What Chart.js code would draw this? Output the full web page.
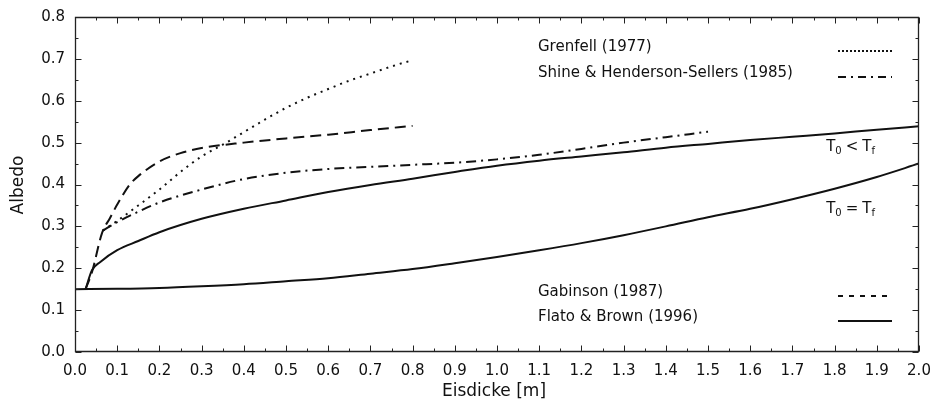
<!DOCTYPE html>
<html>
<head>
<meta charset="utf-8">
<script src="https://cdn.jsdelivr.net/npm/chart.js@4/dist/chart.umd.min.js"></script>
<style>
  body { margin: 0; background: #fff; }
  #wrap { width: 931px; height: 402px; }
</style>
</head>
<body>
<div id="wrap"><canvas id="albedoChart" width="931" height="402"></canvas></div>
<script>
// Flato & Brown (1996), T0 < Tf
const flatoUpperX = [0.025, 0.04, 0.06, 0.1, 0.15, 0.2, 0.3, 0.4, 0.5, 0.6, 0.7, 0.8, 0.9, 1.0, 1.1, 1.2, 1.3, 1.4, 1.5, 1.6, 1.7, 1.8, 1.9, 2.0];
const flatoUpperY = [0.15, 0.195, 0.215, 0.243, 0.265, 0.286, 0.318, 0.342, 0.362, 0.382, 0.399, 0.414, 0.43, 0.445, 0.457, 0.467, 0.477, 0.488, 0.497, 0.506, 0.514, 0.522, 0.531, 0.539];
// Flato & Brown (1996), T0 = Tf
const flatoLowerX = [0, 0.1, 0.2, 0.3, 0.4, 0.5, 0.6, 0.7, 0.8, 0.9, 1.0, 1.1, 1.2, 1.3, 1.4, 1.5, 1.6, 1.7, 1.8, 1.9, 2.0];
const flatoLowerY = [0.15, 0.151, 0.153, 0.157, 0.162, 0.169, 0.176, 0.187, 0.198, 0.212, 0.227, 0.243, 0.26, 0.279, 0.3, 0.322, 0.342, 0.365, 0.39, 0.418, 0.45];
// Gabinson (1987)
const gabinsonX = [0.025, 0.04, 0.064, 0.083, 0.1, 0.13, 0.15, 0.2, 0.25, 0.3, 0.4, 0.5, 0.6, 0.7, 0.8];
const gabinsonY = [0.15, 0.19, 0.284, 0.32, 0.352, 0.4, 0.42, 0.455, 0.475, 0.487, 0.5, 0.51, 0.519, 0.53, 0.54];
// Grenfell (1977)
const grenfellX = [0.066, 0.1, 0.15, 0.2, 0.25, 0.3, 0.35, 0.4, 0.45, 0.5, 0.55, 0.6, 0.65, 0.7, 0.75, 0.8];
const grenfellY = [0.29, 0.313, 0.35, 0.388, 0.43, 0.467, 0.495, 0.525, 0.555, 0.583, 0.607, 0.628, 0.648, 0.665, 0.682, 0.697];
// Shine & Henderson-Sellers (1985)
const shineX = [0.066, 0.1, 0.15, 0.2, 0.3, 0.4, 0.5, 0.6, 0.7, 0.8, 0.9, 1.0, 1.1, 1.2, 1.3, 1.4, 1.5];
const shineY = [0.29, 0.31, 0.335, 0.357, 0.388, 0.413, 0.428, 0.437, 0.442, 0.447, 0.452, 0.46, 0.471, 0.485, 0.5, 0.513, 0.526];

const legendLabels = ['Grenfell (1977)', 'Shine & Henderson-Sellers (1985)', 'Gabinson (1987)', 'Flato & Brown (1996)'];
const xTitle = 'Eisdicke [m]';
const yTitle = 'Albedo';

const ink = '#111';
const font = '"DejaVu Sans", sans-serif';

const toPoints = (xs, ys) => xs.map((x, i) => ({ x: x, y: ys[i] }));

const line = (xs, ys, dash) => ({
    data: toPoints(xs, ys),
    borderColor: ink,
    borderWidth: 2,
    borderDash: dash,
    pointRadius: 0,
    fill: false,
    cubicInterpolationMode: 'monotone'
});

// frame, inward ticks, legend, annotations and axis titles
const decorations = {
    id: 'decorations',
    afterDraw(chart) {
        const ctx = chart.ctx;
        const a = chart.chartArea;
        const xs = chart.scales.x;
        const ys = chart.scales.y;
        const L = Math.round(a.left) + 0.5, R = Math.round(a.right) - 0.5;
        const T = Math.round(a.top) + 0.5, B = Math.round(a.bottom) - 0.5;
        ctx.save();
        ctx.setLineDash([]);
        ctx.strokeStyle = '#222';
        ctx.lineWidth = 1.3;
        ctx.beginPath();
        ctx.moveTo(L, T); ctx.lineTo(R, T); ctx.lineTo(R, B); ctx.lineTo(L, B); ctx.closePath();
        ctx.stroke();
        ctx.lineWidth = 1;
        ctx.beginPath();
        for (let i = 0; i <= 40; i++) {
            const v = i * 0.05;
            const len = i % 2 === 0 ? 6 : 3;
            const px = Math.round(xs.getPixelForValue(v)) + 0.5;
            ctx.moveTo(px, B); ctx.lineTo(px, B - len);
            ctx.moveTo(px, T); ctx.lineTo(px, T + len);
        }
        for (let i = 0; i <= 16; i++) {
            const v = i * 0.05;
            const len = i % 2 === 0 ? 6 : 3;
            const py = Math.round(ys.getPixelForValue(v)) + 0.5;
            ctx.moveTo(L, py); ctx.lineTo(L + len, py);
            ctx.moveTo(R, py); ctx.lineTo(R - len, py);
        }
        ctx.stroke();

        // legend
        const rows = [
            { y: 47, dash: [2, 2] },
            { y: 73, dash: [8, 5, 2, 5] },
            { y: 292, dash: [5, 6] },
            { y: 317, dash: [] }
        ];
        ctx.fillStyle = ink;
        ctx.font = '15px ' + font;
        ctx.textBaseline = 'middle';
        ctx.textAlign = 'left';
        rows.forEach((r, i) => {
            ctx.fillText(legendLabels[i], 538, r.y);
            ctx.beginPath();
            ctx.setLineDash(r.dash);
            ctx.lineWidth = 2;
            ctx.strokeStyle = ink;
            ctx.moveTo(838, r.y + 4);
            ctx.lineTo(892, r.y + 4);
            ctx.stroke();
        });
        ctx.setLineDash([]);

        // T0 < Tf, T0 = Tf
        const sub = (x, y, rel) => {
            ctx.font = '15px ' + font;
            ctx.textAlign = 'left';
            ctx.textBaseline = 'alphabetic';
            let cx = x;
            ctx.fillText('T', cx, y); cx += ctx.measureText('T').width;
            ctx.font = '10px ' + font;
            ctx.fillText('0', cx, y + 3); cx += ctx.measureText('0').width + 4;
            ctx.font = '15px ' + font;
            ctx.fillText(rel, cx, y); cx += ctx.measureText(rel).width + 4;
            ctx.fillText('T', cx, y); cx += ctx.measureText('T').width;
            ctx.font = '10px ' + font;
            ctx.fillText('f', cx, y + 3);
        };
        sub(xs.getPixelForValue(1.78), ys.getPixelForValue(0.48), '<');
        sub(xs.getPixelForValue(1.78), ys.getPixelForValue(0.333), '=');

        // axis titles
        ctx.font = '17px ' + font;
        ctx.textAlign = 'center';
        ctx.textBaseline = 'middle';
        ctx.fillText(xTitle, (a.left + a.right) / 2 - 3, 392);
        ctx.translate(19, 185);
        ctx.rotate(-Math.PI / 2);
        ctx.fillText(yTitle, 0, 0);
        ctx.restore();
    }
};

new Chart(document.getElementById('albedoChart'), {
    type: 'line',
    data: {
        datasets: [
            line(grenfellX, grenfellY, [2, 5]),
            line(shineX, shineY, [10, 5, 2, 5]),
            line(gabinsonX, gabinsonY, [11, 6]),
            line(flatoUpperX, flatoUpperY, []),
            line(flatoLowerX, flatoLowerY, [])
        ]
    },
    options: {
        responsive: false,
        animation: false,
        layout: { padding: { top: 17, right: 12, left: 0, bottom: 0 } },
        plugins: { legend: { display: false }, tooltip: { enabled: false } },
        scales: {
            x: {
                type: 'linear',
                min: 0,
                max: 2,
                grid: { display: false, drawTicks: false },
                border: { display: false },
                ticks: {
                    stepSize: 0.1,
                    padding: 10,
                    autoSkip: false,
                    maxRotation: 0,
                    color: ink,
                    font: { family: font, size: 15 },
                    callback: v => v.toFixed(1)
                },
                afterFit: s => { s.height = 50; s.paddingLeft = 0; s.paddingRight = 0; }
            },
            y: {
                min: 0,
                max: 0.8,
                grid: { display: false, drawTicks: false },
                border: { display: false },
                ticks: {
                    stepSize: 0.1,
                    padding: 10,
                    color: ink,
                    font: { family: font, size: 15 },
                    callback: v => v.toFixed(1)
                },
                afterFit: s => { s.width = 75; s.paddingTop = 0; s.paddingBottom = 0; }
            }
        }
    },
    plugins: [decorations]
});
</script>
</body>
</html>
